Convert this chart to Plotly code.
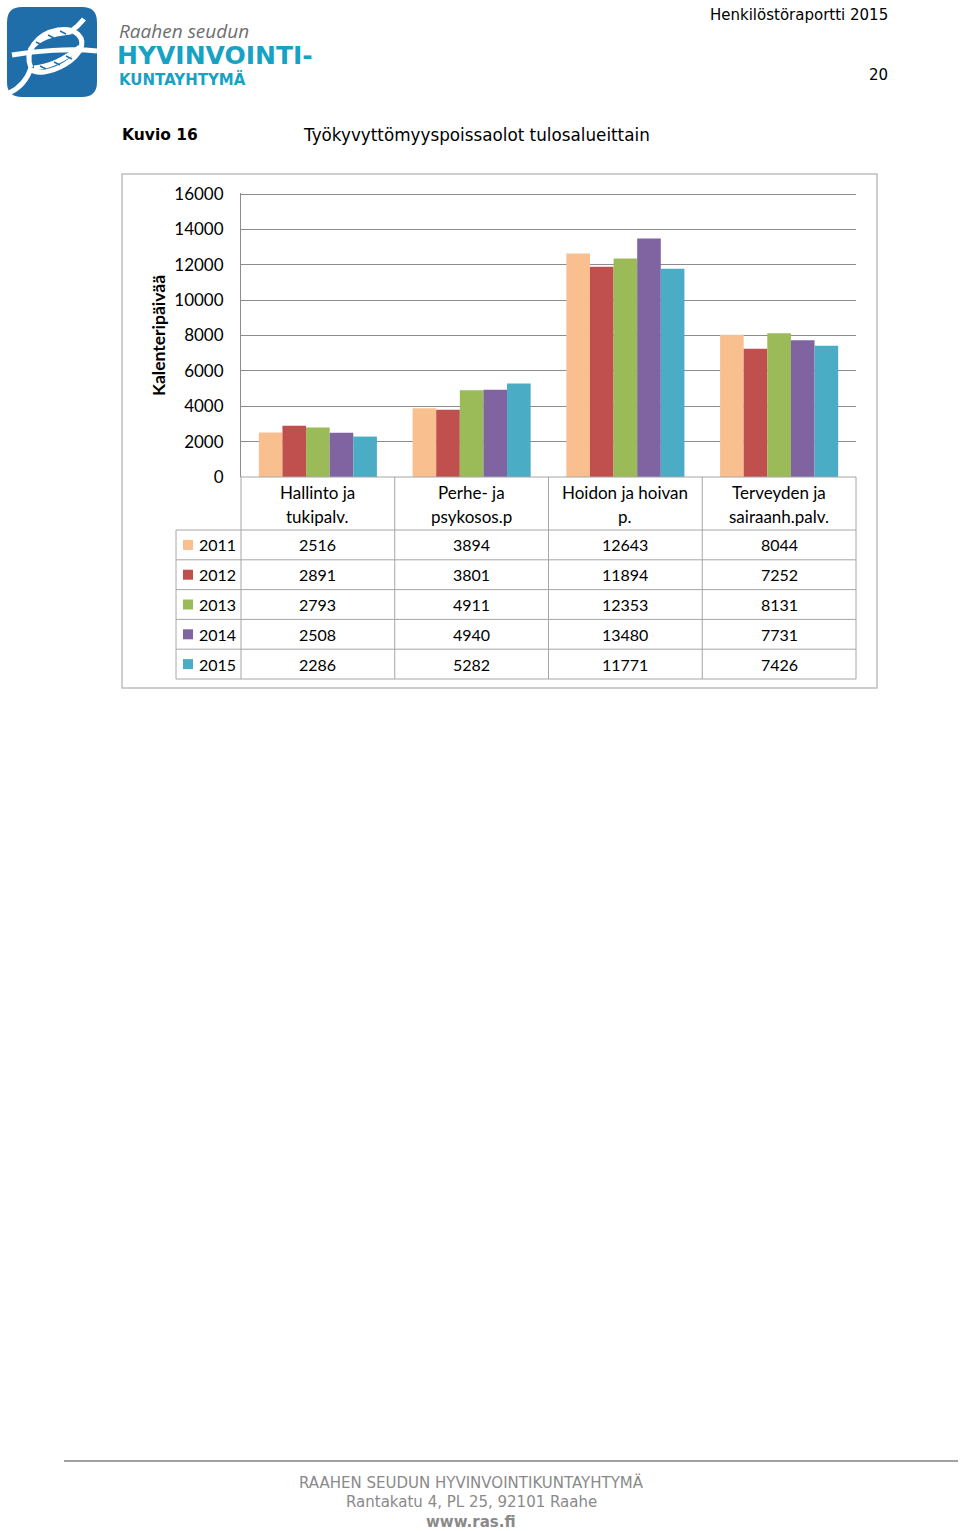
import plotly.graph_objects as go

# ---- data ----
categories = ["Hallinto ja<br>tukipalv.", "Perhe- ja<br>psykosos.p", "Hoidon ja hoivan<br>p.", "Terveyden ja<br>sairaanh.palv."]
years = ["2011", "2012", "2013", "2014", "2015"]
values = {
    "2011": [2516, 3894, 12643, 8044],
    "2012": [2891, 3801, 11894, 7252],
    "2013": [2793, 4911, 12353, 8131],
    "2014": [2508, 4940, 13480, 7731],
    "2015": [2286, 5282, 11771, 7426],
}
colors = ["#F9BF8F", "#C0504D", "#9BBB59", "#8064A2", "#4BACC6"]
y_ticks = [0, 2000, 4000, 6000, 8000, 10000, 12000, 14000, 16000]

W, H = 960, 1531
PL, PR, PT, PB = 241, 856, 194, 477   # plot area in page pixels
GRID = "#8c8c8c"
TBL = "#a6a6a6"
CH = "Lato"
HF = "DejaVu Sans"

fig = go.Figure()
cat_keys = [c.replace("<br>", " ") for c in categories]
for yr, col in zip(years, colors):
    fig.add_trace(go.Bar(x=cat_keys, y=values[yr], name=yr, marker=dict(color=col, line=dict(width=0)),
                         xaxis="x", yaxis="y", showlegend=False, hoverinfo="x+y+name"))
# invisible page-pixel axes for decorations
fig.add_trace(go.Scatter(x=[0, W], y=[0, H], mode="markers", marker=dict(opacity=0), xaxis="x2", yaxis="y2",
                         showlegend=False, hoverinfo="skip"))

shapes = []
ann = []

def line(x0, y0, x1, y1, color=TBL, width=1):
    shapes.append(dict(type="line", xref="x2", yref="y2", x0=x0, y0=y0, x1=x1, y1=y1,
                       line=dict(color=color, width=width), layer="above"))

def text(x, y, s, size=16, color="#000", family=CH, xanchor="center", bold=False, italic=False, angle=0):
    if bold:
        s = "<b>" + s + "</b>"
    if italic:
        s = "<i>" + s + "</i>"
    ann.append(dict(xref="x2", yref="y2", x=x, y=y, text=s, showarrow=False, xanchor=xanchor, yanchor="middle",
                    font=dict(size=size, color=color, family=family), textangle=angle))

# chart frame
shapes.append(dict(type="rect", xref="x2", yref="y2", x0=122, y0=174, x1=877, y1=688,
                   line=dict(color="#bfbfbf", width=1.5), layer="below"))

# data table grid
col_w = (PR - PL) / len(categories)
row_top = 530
row_h = 29.8
line(PL, PB, PR, PB, TBL)
for i in range(len(years) + 1):
    yy = row_top + i * row_h
    line(176, yy, PR, yy)
line(176, row_top, 176, row_top + len(years) * row_h)
for j in range(len(categories) + 1):
    xx = PL + j * col_w
    line(xx, PB, xx, row_top + len(years) * row_h)

# table header (category names)
for j, c in enumerate(categories):
    cx = PL + (j + 0.5) * col_w
    parts = c.split("<br>")
    for k, p in enumerate(parts):
        text(cx, 492 + k * 24, p, size=17)

# table rows
for i, (yr, col) in enumerate(zip(years, colors)):
    cy = row_top + (i + 0.5) * row_h
    shapes.append(dict(type="rect", xref="x2", yref="y2", x0=183, y0=cy - 5, x1=193, y1=cy + 5,
                       fillcolor=col, line=dict(width=0), layer="above"))
    text(197, cy, yr, size=16, xanchor="left")
    for j, v in enumerate(values[yr]):
        text(PL + (j + 0.5) * col_w, cy, str(v), size=16)

# y-axis title
text(158, 336, "Kalenteripäivää", size=17.5, bold=True, angle=-90)

# header / titles
text(890, 15, "Henkilöstöraportti 2015", size=15, family=HF, xanchor="right")
text(890, 75, "20", size=15, family=HF, xanchor="right")
text(120, 135, "Kuvio 16", size=15.5, family=HF, xanchor="left", bold=True)
text(301, 135, "Työkyvyttömyyspoissaolot tulosalueittain", size=16.8, family=HF, xanchor="left")

# logo
LOGO_BLUE = "#1f6eaa"
shapes.append(dict(type="path", xref="x2", yref="y2",
                   path="M 22,7 L 82,7 Q 97,7 97,22 L 97,82 Q 97,97 82,97 L 22,97 Q 7,97 7,82 L 7,22 Q 7,7 22,7 Z",
                   fillcolor=LOGO_BLUE, line=dict(width=0), layer="above"))
rope = ["M 9,93 C 20,88 27,80 31,68",
        "M 12,55 C 35,51 70,48 97,51",
        "M 31,68 C 24,52 36,34 58,30 C 76,27 86,38 80,50 C 74,61 58,70 44,72 C 36,73 31,71 31,68",
        "M 30,50 C 38,38 52,34 70,32 C 76,28 80,24 84,19",
        "M 34,68 C 48,67 64,60 80,47"]
for p in rope:
    shapes.append(dict(type="path", xref="x2", yref="y2", path=p, line=dict(color="white", width=5), layer="above"))
for p in ["M 36,42 L 42,45", "M 48,35 L 54,38", "M 60,31 L 66,34", "M 40,66 L 46,69", "M 54,62 L 60,65", "M 66,56 L 72,59"]:
    shapes.append(dict(type="path", xref="x2", yref="y2", path=p, line=dict(color=LOGO_BLUE, width=1.5), layer="above"))
text(117, 31, "Raahen seudun", size=19, color="#6e6e6e", family="Open Sans", xanchor="left", italic=True)
text(115, 55, "HYVINVOINTI-", size=25, color="#17a1c4", family="DejaVu Sans", xanchor="left", bold=True)
text(117, 79, "KUNTAYHTYMÄ", size=15, color="#17a1c4", family="DejaVu Sans", xanchor="left", bold=True)

# footer
line(64, 1461, 958, 1461, color="#808080", width=1.5)
text(471, 1482, "RAAHEN SEUDUN HYVINVOINTIKUNTAYHTYMÄ", size=15, color="#8a8a8a", family=HF)
text(471, 1502, "Rantakatu 4, PL 25, 92101 Raahe", size=15, color="#8a8a8a", family=HF)
text(471, 1522, "www.ras.fi", size=15, color="#8a8a8a", family=HF, bold=True)

fig.update_layout(
    template="none",
    width=W, height=H, margin=dict(l=0, r=0, t=0, b=0, pad=0, autoexpand=False),
    paper_bgcolor="white", plot_bgcolor="rgba(0,0,0,0)",
    font=dict(family=CH, color="#000"),
    barmode="group", bargap=0.232, bargroupgap=0,
    xaxis=dict(domain=[PL / W, PR / W], anchor="y", showticklabels=False, ticks="", automargin=False,
               showline=False, showgrid=False, zeroline=False, range=[-0.5, 3.5]),
    yaxis=dict(domain=[1 - PB / H, 1 - (PT - 1) / H], anchor="x", range=[0, 16057], tickvals=y_ticks,
               tickformat="d", automargin=False,
               showgrid=True, gridcolor=GRID, gridwidth=1, zeroline=False,
               showline=True, linecolor=GRID, linewidth=1, ticks="",
               ticklabelstandoff=13, tickfont=dict(family=CH, size=17, color="#000")),
    xaxis2=dict(domain=[0, 1], anchor="y2", range=[0, W], visible=False, fixedrange=True, automargin=False),
    yaxis2=dict(domain=[0, 1], anchor="x2", range=[H, 0], visible=False, fixedrange=True, automargin=False),
    shapes=shapes, annotations=ann,
)
fig.write_html("out.html", config={"displayModeBar": False},
               post_script="document.body.style.margin='0';document.body.style.overflow='hidden';")
